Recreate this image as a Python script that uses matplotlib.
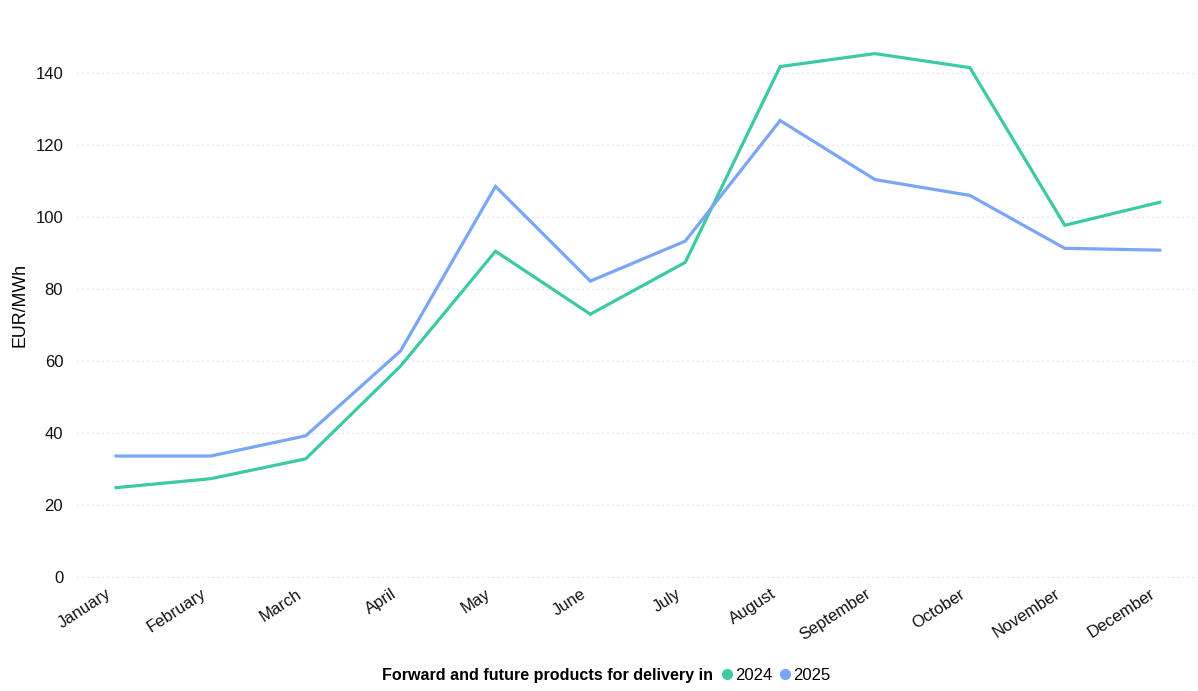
import matplotlib.pyplot as plt
import matplotlib.transforms as mtransforms
from matplotlib.lines import Line2D

plt.rcParams['font.family'] = ['Liberation Sans', 'DejaVu Sans']

# monthly forward/future prices, EUR/MWh
months = ['January', 'February', 'March', 'April', 'May', 'June', 'July',
          'August', 'September', 'October', 'November', 'December']
prices_2024 = [24.7, 27.2, 32.7, 58.5, 90.4, 72.9, 87.3, 141.7, 145.3, 141.4, 97.6, 104.0]
prices_2025 = [33.5, 33.5, 39.1, 62.7, 108.4, 82.1, 93.2, 126.7, 110.3, 105.9, 91.2, 90.7]

green = '#3ccaa5'
blue = '#79a6f9'

fig = plt.figure(figsize=(11.98, 6.91), dpi=100)
ax = fig.add_axes([0.0643, 0.1635, 0.933, 0.786])

x = list(range(len(months)))
ax.plot(x, prices_2024, color=green, linewidth=2.3, solid_joinstyle='miter')
ax.plot(x, prices_2025, color=blue, linewidth=2.3, solid_joinstyle='miter')

ax.set_xlim(-0.41, 11.37)
ax.set_ylim(-0.4, 150.5)
ax.set_yticks(range(0, 141, 20))
ax.set_xticks(x)
ax.set_xticklabels(months, rotation=33, ha='right', rotation_mode='anchor')

for s in ax.spines.values():
    s.set_visible(False)
ax.tick_params(length=0, labelsize=12, colors='#111111')
ax.tick_params(axis='y', pad=10)
ax.tick_params(axis='x', pad=6)
ax.grid(axis='y', color='#d4d4d4', linestyle=(0, (1, 3)), linewidth=0.9)
ax.set_axisbelow(True)

# nudge month labels left of their ticks (after tick_params, which resets transforms)
shift = mtransforms.ScaledTranslation(-0.1, 0, fig.dpi_scale_trans)
for lbl in ax.get_xticklabels():
    lbl.set_transform(lbl.get_transform() + shift)

fig.text(0.0167, 0.558, 'EUR/MWh', rotation=90, ha='center', va='center', fontsize=12.8)

# legend along the bottom
fig.text(0.595, 0.022, 'Forward and future products for delivery in',
         ha='right', va='center', fontsize=11.6, fontweight='bold')
handles = [Line2D([], [], marker='o', linestyle='', color=green, markersize=7),
           Line2D([], [], marker='o', linestyle='', color=blue, markersize=7)]
fig.legend(handles, ['2024', '2025'], loc='center left', bbox_to_anchor=(0.602, 0.022),
           ncol=2, frameon=False, fontsize=12, handletextpad=0.12, columnspacing=0.45,
           handlelength=0.7, borderpad=0, borderaxespad=0)

fig.savefig('out.png', dpi=100)
